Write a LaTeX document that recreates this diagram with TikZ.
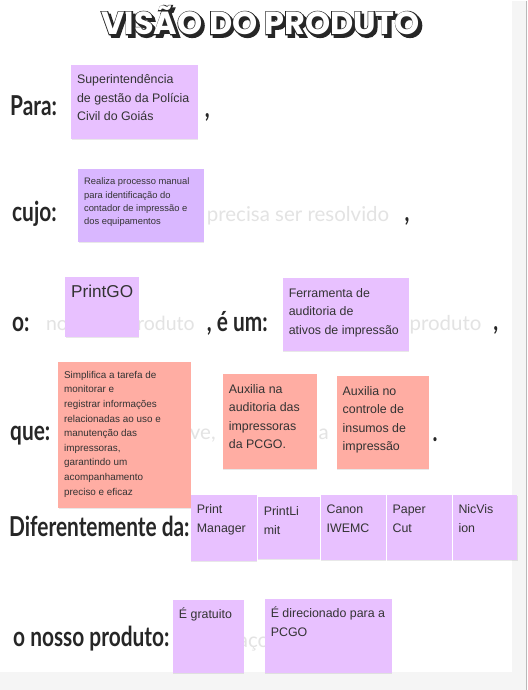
\documentclass[tikz,border=0pt]{standalone}
\usepackage{fontspec}
\setmainfont{Liberation Sans}
\newfontfamily\handfont{Lato}[FakeStretch=0.76]
\newfontfamily\titlefont{Poppins}
\newfontfamily\titleedgefont{Poppins}[BoldFeatures={FakeBold=6}]
\newfontfamily\ghostfont{Lato}
\usetikzlibrary{shadows}
\definecolor{lilac}{HTML}{E8C1FF}
\definecolor{lavender}{HTML}{D9B7FF}
\definecolor{salmon}{HTML}{FFADA3}
\definecolor{ink}{HTML}{333333}
\definecolor{labelink}{HTML}{262626}
\definecolor{ghostgray}{HTML}{E3E3E3}
\definecolor{page}{HTML}{F5F5F5}
\def\violetnote{\node[note,fill=lilac]}
\def\salmonnote{\node[note,fill=salmon]}
\def\handnode{\node[hand]}
\def\ghostnode{\node[ghost]}
\newcommand\notetext[3]{\parbox[c][#2pt][t]{#1pt}{\raggedright\strut#3}}

\begin{document}
\begin{tikzpicture}[x=1pt,y=-1pt,
  note/.style={anchor=north west,inner sep=6pt,text=ink,
    font=\fontsize{12.4}{18.5}\selectfont,
    drop shadow={shadow xshift=0.5pt,shadow yshift=-1pt,opacity=0.18}},
  small/.style={font=\fontsize{9.4}{13.3}\selectfont},
  smaller/.style={font=\fontsize{9.9}{14.6}\selectfont},
  hand/.style={anchor=base west,inner sep=0pt,text=labelink,
    font=\handfont\bfseries\fontsize{27.5}{27.5}\selectfont},
  ghost/.style={anchor=base west,inner sep=0pt,text=ghostgray,
    font=\ghostfont\fontsize{20.5}{20.5}\selectfont},
  title/.style={anchor=base,inner sep=0pt,
    font=\titlefont\bfseries\fontsize{32}{32}\selectfont},
  titleedge/.style={anchor=base,inner sep=0pt,text=labelink,
    font=\titleedgefont\bfseries\fontsize{32}{32}\selectfont}]
\fill[page] (0,0) rectangle (528,690);
\fill[white] (0,0) rectangle (513,672);
\draw[gray!55,line width=1pt] (527.5,0) -- (527.5,690);
\useasboundingbox (0,0) rectangle (528,690);

\node[titleedge] (titleshadow) at (263.5,36.5) {VISÃO DO PRODUTO};
\node[titleedge] (titleedge) at (261,34) {VISÃO DO PRODUTO};
\node[title,text=white] (title) at (261,34) {VISÃO DO PRODUTO};

\ghostnode (cujoghost) at (207,221) {precisa ser resolvido};
\ghostnode[font=\ghostfont\fontsize{19.5}{19.5}\selectfont] (nomeghost) at (46,330) {nome do produto};
\ghostnode (produtoghost) at (410,330) {produto};
\ghostnode (queghost) at (190,440) {ve,};
\ghostnode (queghosttwo) at (319,440) {a};
\ghostnode (nossoghost) at (238,648) {aço};

\handnode (para) at (10,115) {Para:};
\handnode (cujo) at (12,221) {cujo:};
\handnode (o) at (12,331) {o:};
\handnode (eum) at (207,331) {, é um:};
\handnode (que) at (10,441) {que:};
\handnode (diferente) at (9,537) {Diferentemente da:};
\handnode (nosso) at (13,647) {o nosso produto:};
\handnode (paracomma) at (205,117) {,};
\handnode (cujocomma) at (405,221) {,};
\handnode (ocomma) at (494,330) {,};
\handnode (quedot) at (433,442) {.};

\violetnote (policia) at (71,64) {\notetext{115}{62}{Superintendência\\de gestão da Polícia\\Civil do Goiás}};
\node[note,small,fill=lavender] (manual) at (78,169) {\notetext{114}{61}{Realiza processo manual\\para identificação do\\contador de impressão e\\dos equipamentos}};
\violetnote[font=\fontsize{17.2}{20}\selectfont] (printgo) at (65,277) {\notetext{62}{48}{PrintGO}};
\violetnote (ferramenta) at (283,278) {\notetext{114}{61}{Ferramenta de\\auditoria de\\ativos de impressão}};

\salmonnote[smaller] (simplifica) at (58,362) {\notetext{121}{134}{Simplifica a tarefa de\\monitorar e\\registrar informações\\relacionadas ao uso e\\manutenção das\\impressoras,\\garantindo um\\acompanhamento\\preciso e eficaz}};
\salmonnote (auditoria) at (223,374) {\notetext{82}{83}{Auxilia na\\auditoria das\\impressoras\\da PCGO.}};
\salmonnote (insumos) at (337,376) {\notetext{80}{81}{Auxilia no\\controle de\\insumos de\\impressão}};

\violetnote (printmanager) at (191,495) {\notetext{54}{54}{Print\\Manager}};
\violetnote (printlimit) at (258,497) {\notetext{50}{50}{PrintLi\\mit}};
\violetnote (canon) at (321,495) {\notetext{53}{53}{Canon\\IWEMC}};
\violetnote (papercut) at (387,495) {\notetext{53}{53}{Paper\\Cut}};
\violetnote (nicvision) at (453,495) {\notetext{53}{53}{NicVis\\ion}};

\violetnote (gratuito) at (173,600) {\notetext{59}{61}{É gratuito}};
\violetnote (pcgo) at (265,599) {\notetext{115}{62}{É direcionado para a\\PCGO}};
\end{tikzpicture}
\end{document}
